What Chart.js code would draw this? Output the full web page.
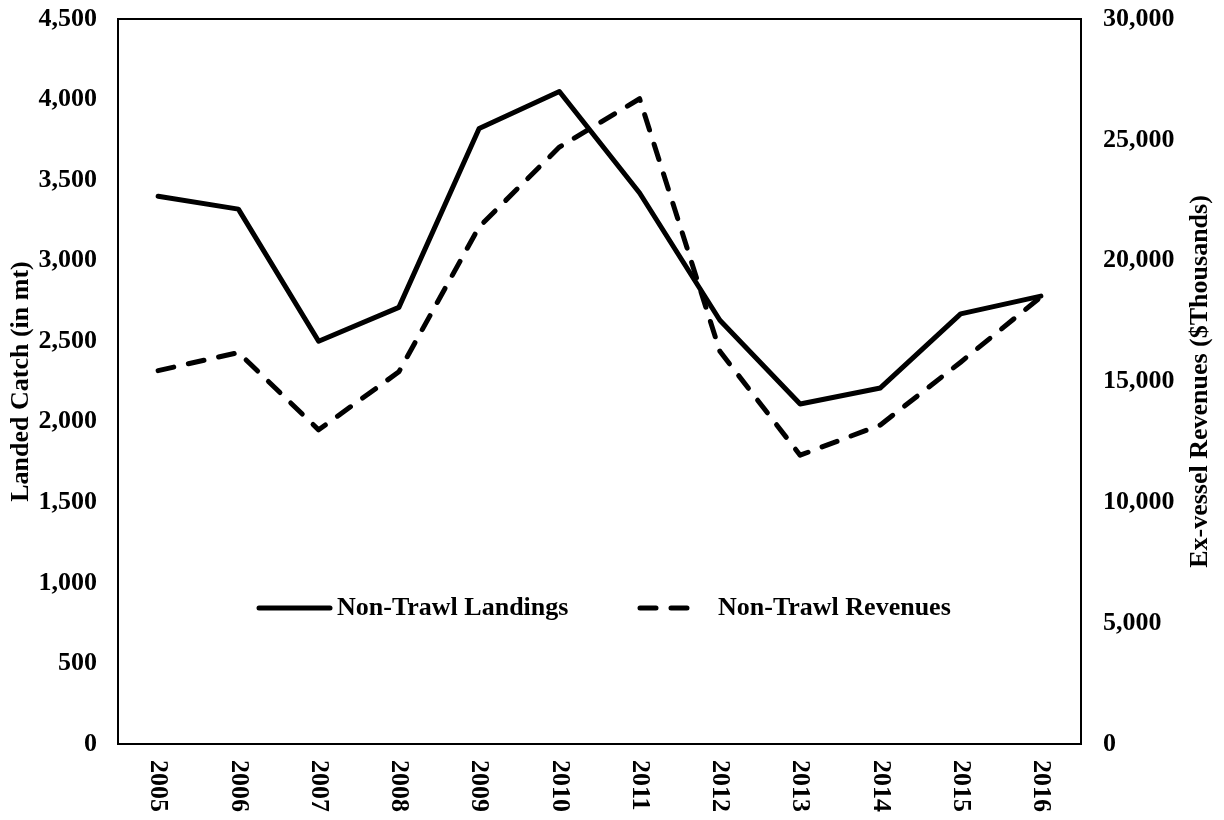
<!DOCTYPE html>
<html>
<head>
<meta charset="utf-8">
<script src="https://cdn.jsdelivr.net/npm/chart.js@4/dist/chart.umd.min.js"></script>
<style>
  html, body { margin: 0; padding: 0; background: #fff; }
  #wrap { width: 1224px; height: 820px; }
</style>
</head>
<body>
<div id="wrap"><canvas id="chart" width="1224" height="820"></canvas></div>
<script>
const years = ['2005', '2006', '2007', '2008', '2009', '2010', '2011', '2012', '2013', '2014', '2015', '2016'];
const landings = [3400, 3320, 2500, 2710, 3820, 4050, 3420, 2630, 2110, 2210, 2670, 2780];
const revenues = [15450, 16200, 13000, 15400, 21400, 24700, 26700, 16250, 11950, 13200, 15800, 18500];
const leftTitle = 'Landed Catch (in mt)';
const rightTitle = 'Ex-vessel Revenues ($Thousands)';

const FONT = '"Liberation Serif", "Times New Roman", serif';
const FS = 26;

// frame, downward year labels, right title and the legend inside the plot
const extras = {
    id: 'extras',
    afterDraw(chart) {
        const ctx = chart.ctx;
        const a = chart.chartArea;
        ctx.save();
        ctx.strokeStyle = '#000';
        ctx.lineWidth = 2;
        ctx.strokeRect(a.left, a.top, a.right - a.left, a.bottom - a.top);

        // year labels, reading top to bottom
        ctx.fillStyle = '#000';
        ctx.font = 'bold ' + FS + 'px ' + FONT;
        ctx.textAlign = 'left';
        ctx.textBaseline = 'middle';
        const x = chart.scales.x;
        years.forEach((yr, i) => {
            ctx.save();
            ctx.translate(x.getPixelForValue(i), a.bottom + 16);
            ctx.rotate(Math.PI / 2);
            ctx.fillText(yr, 0, 0);
            ctx.restore();
        });

        // right axis title, reading bottom to top
        ctx.save();
        ctx.translate(1200, (a.top + a.bottom) / 2);
        ctx.rotate(-Math.PI / 2);
        ctx.textAlign = 'center';
        ctx.fillText(rightTitle, 0, 0);
        ctx.restore();

        // legend
        const ly = 608;
        const items = [
            { x0: 259, x1: 330, tx: 337, ds: chart.data.datasets[0] },
            { x0: 640, x1: 701, tx: 718, ds: chart.data.datasets[1] }
        ];
        items.forEach(it => {
            ctx.beginPath();
            ctx.lineWidth = it.ds.borderWidth;
            ctx.lineCap = 'round';
            ctx.setLineDash(it.ds.borderDash || []);
            ctx.moveTo(it.x0, ly);
            ctx.lineTo(it.x1, ly);
            ctx.stroke();
            ctx.setLineDash([]);
            ctx.textAlign = 'left';
            ctx.fillText(it.ds.label, it.tx, ly);
        });
        ctx.restore();
    }
};

// fixed box sizes so the plot area lands where the reference has it
function fixY(width) {
    return s => {
        s.width = width;
        s.paddingTop = 0;
        s.paddingBottom = 0;
    };
}

new Chart(document.getElementById('chart'), {
    type: 'line',
    data: {
        labels: years,
        datasets: [{
            label: 'Non-Trawl Landings',
            data: landings,
            yAxisID: 'y',
            borderColor: '#000',
            borderWidth: 5,
            borderJoinStyle: 'round',
            borderCapStyle: 'round',
            pointRadius: 0,
            tension: 0,
            fill: false
        }, {
            label: 'Non-Trawl Revenues',
            data: revenues,
            yAxisID: 'y1',
            borderColor: '#000',
            borderWidth: 5,
            borderDash: [16, 15],
            borderJoinStyle: 'round',
            borderCapStyle: 'round',
            pointRadius: 0,
            tension: 0,
            fill: false
        }]
    },
    options: {
        responsive: false,
        animation: false,
        layout: { padding: { top: 19, left: 0, right: 0, bottom: 0 } },
        scales: {
            x: {
                type: 'category',
                offset: true,
                grid: { display: false, drawTicks: false },
                border: { display: false },
                ticks: { display: false },
                afterFit: s => { s.height = 76; s.paddingLeft = 0; s.paddingRight = 0; }
            },
            y: {
                position: 'left',
                min: 0,
                max: 4500,
                grid: { display: false, drawTicks: false },
                border: { display: true, color: '#000', width: 2 },
                ticks: {
                    stepSize: 500,
                    padding: 21,
                    color: '#000',
                    font: { family: FONT, size: FS, weight: 'bold' },
                    callback: v => v.toLocaleString('en-US')
                },
                title: {
                    display: true,
                    text: leftTitle,
                    color: '#000',
                    padding: { top: 6, bottom: 0 },
                    font: { family: FONT, size: FS, weight: 'bold' }
                },
                afterFit: fixY(118)
            },
            y1: {
                position: 'right',
                min: 0,
                max: 30000,
                grid: { display: false, drawTicks: false },
                border: { display: true, color: '#000', width: 2 },
                ticks: {
                    stepSize: 5000,
                    padding: 22,
                    color: '#000',
                    font: { family: FONT, size: FS, weight: 'bold' },
                    callback: v => v.toLocaleString('en-US')
                },
                afterFit: fixY(143)
            }
        },
        plugins: {
            legend: { display: false },
            tooltip: { enabled: false }
        }
    },
    plugins: [extras]
});
</script>
</body>
</html>
